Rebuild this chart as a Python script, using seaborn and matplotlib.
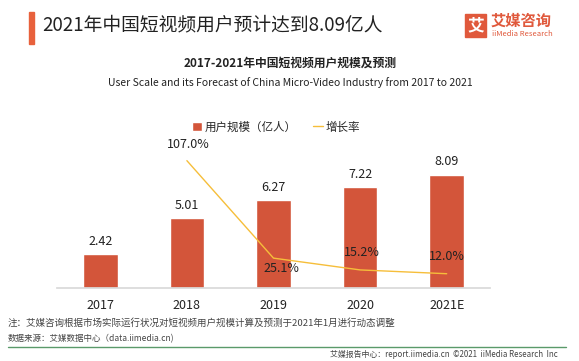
import numpy as np
import pandas as pd
import matplotlib
matplotlib.use('Agg')
import matplotlib.pyplot as plt
import seaborn as sns
from matplotlib.patches import Patch, Rectangle
from matplotlib.lines import Line2D

sns.set_theme(style='white')
plt.rcParams['font.family'] = ['Noto Sans CJK SC', 'DejaVu Sans']

# --- data ---
years = ['2017', '2018', '2019', '2020', '2021E']
users = [2.42, 5.01, 6.27, 7.22, 8.09]          # 亿人
growth = [np.nan, 107.0, 25.1, 15.2, 12.0]      # %

df = pd.DataFrame({'year': years, 'users': users, 'growth': growth})
df['pos'] = range(len(df))

bar_color = '#D3553A'
line_color = '#F6BE3A'

fig = plt.figure(figsize=(5.79, 3.61), dpi=100)
ax = fig.add_axes([57 / 579, 1 - 288 / 361, 433 / 579, 188 / 361])

sns.barplot(data=df, x='pos', y='users', color=bar_color, width=0.4,
            saturation=1, ax=ax)
ax.set_xlim(-0.5, 4.5)
ax.set_ylim(0, 188 / 14)
ax.set_xticks(df['pos'])
ax.set_xticklabels(years, fontsize=9, color='#222222')
ax.tick_params(axis='x', length=0, pad=8)
ax.set_yticks([])
ax.set_xlabel('')
ax.set_ylabel('')
for s in ['top', 'right', 'left']:
    ax.spines[s].set_visible(False)
ax.spines['bottom'].set_color('#d9d9d9')

for p, v in zip(df['pos'], df['users']):
    ax.text(p, v + 0.45, f'{v:.2f}', ha='center', va='bottom', fontsize=9,
            color='#222222')

ax2 = ax.twinx()
sns.lineplot(data=df.dropna(), x='pos', y='growth', color=line_color,
             linewidth=1.0, ax=ax2)
ax2.set_ylim(0, 188 / 1.19)
ax2.set_yticks([])
ax2.set_ylabel('')
ax2.set_xlim(-0.5, 4.5)
for s in ax2.spines.values():
    s.set_visible(False)

offsets = {1: (0.02, 8, 'bottom'), 2: (0.09, -3, 'top'),
           3: (0.02, 9, 'bottom'), 4: (0.0, 9, 'bottom')}
for p, g in zip(df['pos'], df['growth']):
    if np.isnan(g):
        continue
    dx, dy, va = offsets[p]
    ax2.text(p + dx, g + dy, f'{g:.1f}%', ha='center', va=va, fontsize=9,
             color='#222222')

handles = [Patch(facecolor=bar_color, label='用户规模（亿人）'),
           Line2D([0], [0], color=line_color, lw=1.0, label='增长率')]
fig.legend(handles=handles, loc='center', bbox_to_anchor=(276 / 579, 1 - 127 / 361),
           ncol=2, frameon=False, fontsize=8.3, handlelength=0.9,
           handletextpad=0.2, columnspacing=1.4)

# --- titles ---
fig.patches.append(Rectangle((29 / 579, 1 - 44 / 361), 5 / 579, 32 / 361,
                             transform=fig.transFigure, color='#E8613C'))
fig.text(42 / 579, 1 - 25 / 361, '2021年中国短视频用户预计达到8.09亿人',
         fontsize=13.5, va='center', ha='left', color='#222222')
fig.text(290 / 579, 1 - 63 / 361, '2017-2021年中国短视频用户规模及预测',
         fontsize=8.5, fontweight='bold', ha='center', va='center', color='#222222')
fig.text(290 / 579, 1 - 83 / 361,
         'User Scale and its Forecast of China Micro-Video Industry from 2017 to 2021',
         fontsize=7.5, ha='center', va='center', color='#222222')

# --- logo ---
fig.patches.append(Rectangle((465 / 579, 1 - 37 / 361), 21 / 579, 23 / 361,
                             transform=fig.transFigure, color='#E0593C'))
fig.text(475.5 / 579, 1 - 25.5 / 361, '艾', fontsize=12, fontweight='bold',
         color='white', ha='center', va='center')
fig.text(491 / 579, 1 - 21 / 361, '艾媒咨询', fontsize=11, color='#E0593C',
         ha='left', va='center', fontweight='bold')
fig.text(492 / 579, 1 - 34 / 361, 'iiMedia Research', fontsize=5.5,
         color='#E0593C', ha='left', va='center')

# --- footer ---
fig.text(8 / 579, 1 - 323 / 361,
         '注：艾媒咨询根据市场实际运行状况对短视频用户规模计算及预测于2021年1月进行动态调整',
         fontsize=6.85, color='#444444', va='center')
fig.text(8 / 579, 1 - 339 / 361, '数据来源：艾媒数据中心（data.iimedia.cn)',
         fontsize=6.1, color='#444444', va='center')
fig.add_artist(Line2D([8 / 579, 566 / 579], [1 - 347 / 361, 1 - 347 / 361],
                      transform=fig.transFigure, color='#5a9a6a', lw=1.0))
fig.text(558 / 579, 1 - 354 / 361,
         '艾媒报告中心：report.iimedia.cn  ©2021  iiMedia Research  Inc',
         fontsize=5.7, color='#444444', ha='right', va='center')

fig.savefig('out.png', dpi=100)
